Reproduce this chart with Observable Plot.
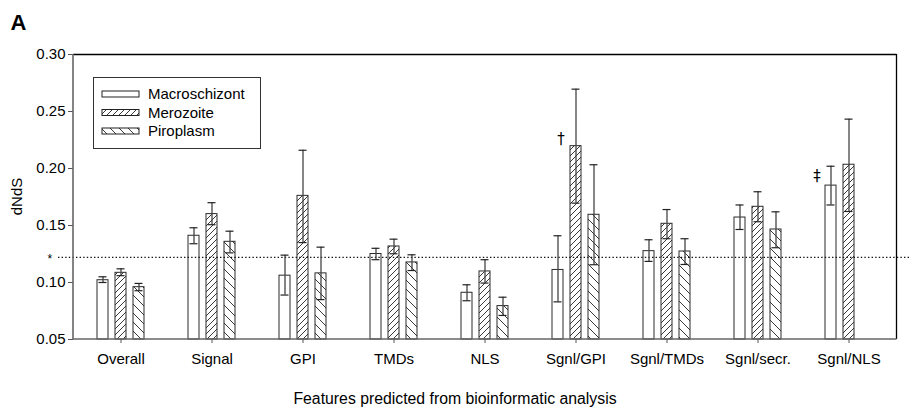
<!DOCTYPE html>
<html>
<head>
<meta charset="utf-8">
<script src="https://cdn.jsdelivr.net/npm/d3@7"></script>
<script src="https://cdn.jsdelivr.net/npm/@observablehq/plot@0.6"></script>
<style>
  html, body { margin: 0; padding: 0; background: #fff; }
</style>
</head>
<body>
<div id="chart"></div>
<script>
// ---- data ----
const categories = ["Overall", "Signal", "GPI", "TMDs", "NLS", "Sgnl/GPI", "Sgnl/TMDs", "Sgnl/secr.", "Sgnl/NLS"];
const seriesNames = ["Macroschizont", "Merozoite", "Piroplasm"];

const macroschizont   = [0.102, 0.141, 0.106, 0.125, 0.091, 0.111, 0.1275, 0.157, 0.185];
const macroschizontLo = [0.100, 0.134, 0.089, 0.120, 0.084, 0.083, 0.1185, 0.1465, 0.168];
const macroschizontHi = [0.105, 0.148, 0.124, 0.130, 0.098, 0.141, 0.1375, 0.168, 0.202];

const merozoite   = [0.1085, 0.160, 0.176, 0.1316, 0.1097, 0.2196, 0.1515, 0.1664, 0.2033];
const merozoiteLo = [0.106, 0.1507, 0.135, 0.1252, 0.0995, 0.1696, 0.1384, 0.1533, 0.1623];
const merozoiteHi = [0.112, 0.170, 0.216, 0.138, 0.120, 0.2696, 0.164, 0.1796, 0.2433];

const piroplasm   = [0.0959, 0.1357, 0.108, 0.1176, 0.0793, 0.1594, 0.1272, 0.1465, null];
const piroplasmLo = [0.0928, 0.126, 0.085, 0.1105, 0.0711, 0.1156, 0.1158, 0.1305, null];
const piroplasmHi = [0.0992, 0.145, 0.131, 0.1243, 0.0871, 0.2033, 0.1384, 0.162, null];

const yTicks = [0.05, 0.10, 0.15, 0.20, 0.25, 0.30];
const baseline = 0.05;
const refLine = 0.122;   // dotted reference line, marked "*"
const annotations = [
  {category: "Sgnl/GPI", series: "Merozoite", value: 0.2196, symbol: "†"},
  {category: "Sgnl/NLS", series: "Macroschizont", value: 0.185, symbol: "‡"}
];

(function () {
// ---- build table ----
const values = {Macroschizont: [macroschizont, macroschizontLo, macroschizontHi],
                Merozoite: [merozoite, merozoiteLo, merozoiteHi],
                Piroplasm: [piroplasm, piroplasmLo, piroplasmHi]};
const rows = [];
for (const s of seriesNames) {
  const [v, lo, hi] = values[s];
  categories.forEach((c, i) => {
    if (v[i] != null) rows.push({category: c, series: s, value: v[i], lo: lo[i], hi: hi[i]});
  });
}

// ---- styling ----
const offset = {Macroschizont: -18, Merozoite: 0, Piroplasm: 18};
const fills = {Macroschizont: "white", Merozoite: "url(#hatchFwd)", Piroplasm: "url(#hatchBack)"};
const font = "'Liberation Sans', Arial, Helvetica, sans-serif";
const fontSize = 15;

const marks = [];
for (const s of seriesNames) {
  const d = rows.filter(r => r.series === s);
  marks.push(Plot.barY(d, {x: "category", y1: baseline, y2: "value", dx: offset[s],
    fill: fills[s], stroke: "#2a2a2a", strokeWidth: 1}));
}
marks.push(Plot.ruleY([refLine], {y: d => d, stroke: "#111", strokeWidth: 1.4,
  strokeDasharray: "1.4,2.2", insetLeft: -15, insetRight: -13}));
for (const s of seriesNames) {
  const d = rows.filter(r => r.series === s);
  marks.push(Plot.ruleX(d, {x: "category", y1: "lo", y2: "hi", dx: offset[s], stroke: "#444", strokeWidth: 1.3}));
  marks.push(Plot.tickY(d, {x: "category", y: "hi", dx: offset[s], insetLeft: 1.5, insetRight: 1.5, stroke: "#222", strokeWidth: 1.2}));
  marks.push(Plot.tickY(d, {x: "category", y: "lo", dx: offset[s], insetLeft: 1.5, insetRight: 1.5, stroke: "#222", strokeWidth: 1.2}));
}
marks.push(Plot.text([refLine], {y: d => d, frameAnchor: "left", dx: -26, dy: 2, text: () => "*", fontSize: 12, fill: "#000"}));
marks.push(Plot.text([annotations[0]], {x: "category", y: "value", text: "symbol", dx: -15, dy: -7, fontSize: 15, fill: "#000", fontFamily: "DejaVu Sans"}));
marks.push(Plot.text([annotations[1]], {x: "category", y: "value", text: "symbol", dx: -32, dy: -9, fontSize: 15, fill: "#000", fontFamily: "DejaVu Sans"}));

const plot = Plot.plot({
  width: 910,
  height: 407,
  marginLeft: 73,
  marginRight: 14,
  marginTop: 54,
  marginBottom: 68,
  style: {fontFamily: font, fontSize: fontSize + "px", background: "white", color: "#000", overflow: "visible"},
  x: {type: "band", domain: categories, paddingInner: 0.876, paddingOuter: 0.438,
      axis: "bottom", label: null, tickSize: 4, tickPadding: 10},
  y: {domain: [0.05, 0.30], ticks: yTicks, tickFormat: ".2f", tickSize: 5, tickPadding: 3, label: null},
  marks
});
document.getElementById("chart").appendChild(plot);

// ---- decorations (patterns, frame, legend, titles) ----
const svg = d3.select(plot);
const defs = svg.insert("defs", ":first-child");
const pf = defs.append("pattern").attr("id", "hatchFwd").attr("patternUnits", "userSpaceOnUse")
  .attr("width", 6).attr("height", 6);
pf.append("rect").attr("width", 6).attr("height", 6).attr("fill", "white");
pf.append("path").attr("d", "M0,6 L6,0 M-1,1 L1,-1 M5,7 L7,5").attr("stroke", "#222").attr("stroke-width", 0.9);
const pb = defs.append("pattern").attr("id", "hatchBack").attr("patternUnits", "userSpaceOnUse")
  .attr("width", 9).attr("height", 9);
pb.append("rect").attr("width", 9).attr("height", 9).attr("fill", "white");
pb.append("path").attr("d", "M0,0 L9,9 M-1,8 L1,10 M8,-1 L10,1").attr("stroke", "#222").attr("stroke-width", 0.9);

const xr = plot.scale("x").range, yr = plot.scale("y").range;
const fLeft = Math.min(...xr), fRight = Math.max(...xr);
const fTop = Math.min(...yr), fBottom = Math.max(...yr);

// gray tick marks
svg.selectAll('[aria-label$="tick"] path, .tick line').attr("stroke", "#555");

const frame = svg.append("g");
frame.append("line").attr("x1", fLeft).attr("x2", fRight + 0.5).attr("y1", fTop + 0.5).attr("y2", fTop + 0.5).attr("stroke", "#000").attr("stroke-width", 1.3);
frame.append("line").attr("x1", fRight + 0.5).attr("x2", fRight + 0.5).attr("y1", fTop).attr("y2", fBottom).attr("stroke", "#000").attr("stroke-width", 1.3);
frame.append("line").attr("x1", fLeft).attr("x2", fLeft).attr("y1", fTop).attr("y2", fBottom).attr("stroke", "#666").attr("stroke-width", 1.6);
frame.append("line").attr("x1", fLeft).attr("x2", fRight + 0.5).attr("y1", fBottom).attr("y2", fBottom).attr("stroke", "#666").attr("stroke-width", 1.6);

// legend
const lg = svg.append("g").attr("font-family", font).attr("font-size", fontSize).attr("text-anchor", "start").attr("fill", "#000");
lg.append("rect").attr("x", 93.5).attr("y", 77.5).attr("width", 167).attr("height", 71)
  .attr("fill", "white").attr("stroke", "#333").attr("stroke-width", 1);
seriesNames.forEach((s, i) => {
  const cy = 94 + i * 18.5;
  lg.append("rect").attr("x", 102).attr("y", cy - 3).attr("width", 37).attr("height", 6)
    .attr("fill", fills[s]).attr("stroke", "#222").attr("stroke-width", 1);
  lg.append("text").attr("x", 148).attr("y", cy).attr("dy", "0.36em").attr("text-anchor", "start").text(s);
});

// panel letter, axis titles
svg.append("text").attr("x", 10.5).attr("y", 29.5).attr("text-anchor", "start").attr("font-family", font).attr("font-weight", "bold")
  .attr("font-size", 22).attr("fill", "#000").text("A");
svg.append("text").attr("transform", `translate(16.5,${(fTop + fBottom) / 2}) rotate(-90)`)
  .attr("text-anchor", "middle").attr("dy", "0.36em").attr("font-family", font).attr("font-size", fontSize).attr("fill", "#000").text("dNdS");
svg.append("text").attr("x", 455).attr("y", 398).attr("text-anchor", "middle").attr("dy", "0.36em")
  .attr("font-family", font).attr("font-size", 15.8).attr("fill", "#000").text("Features predicted from bioinformatic analysis");
})();
</script>
</body>
</html>
